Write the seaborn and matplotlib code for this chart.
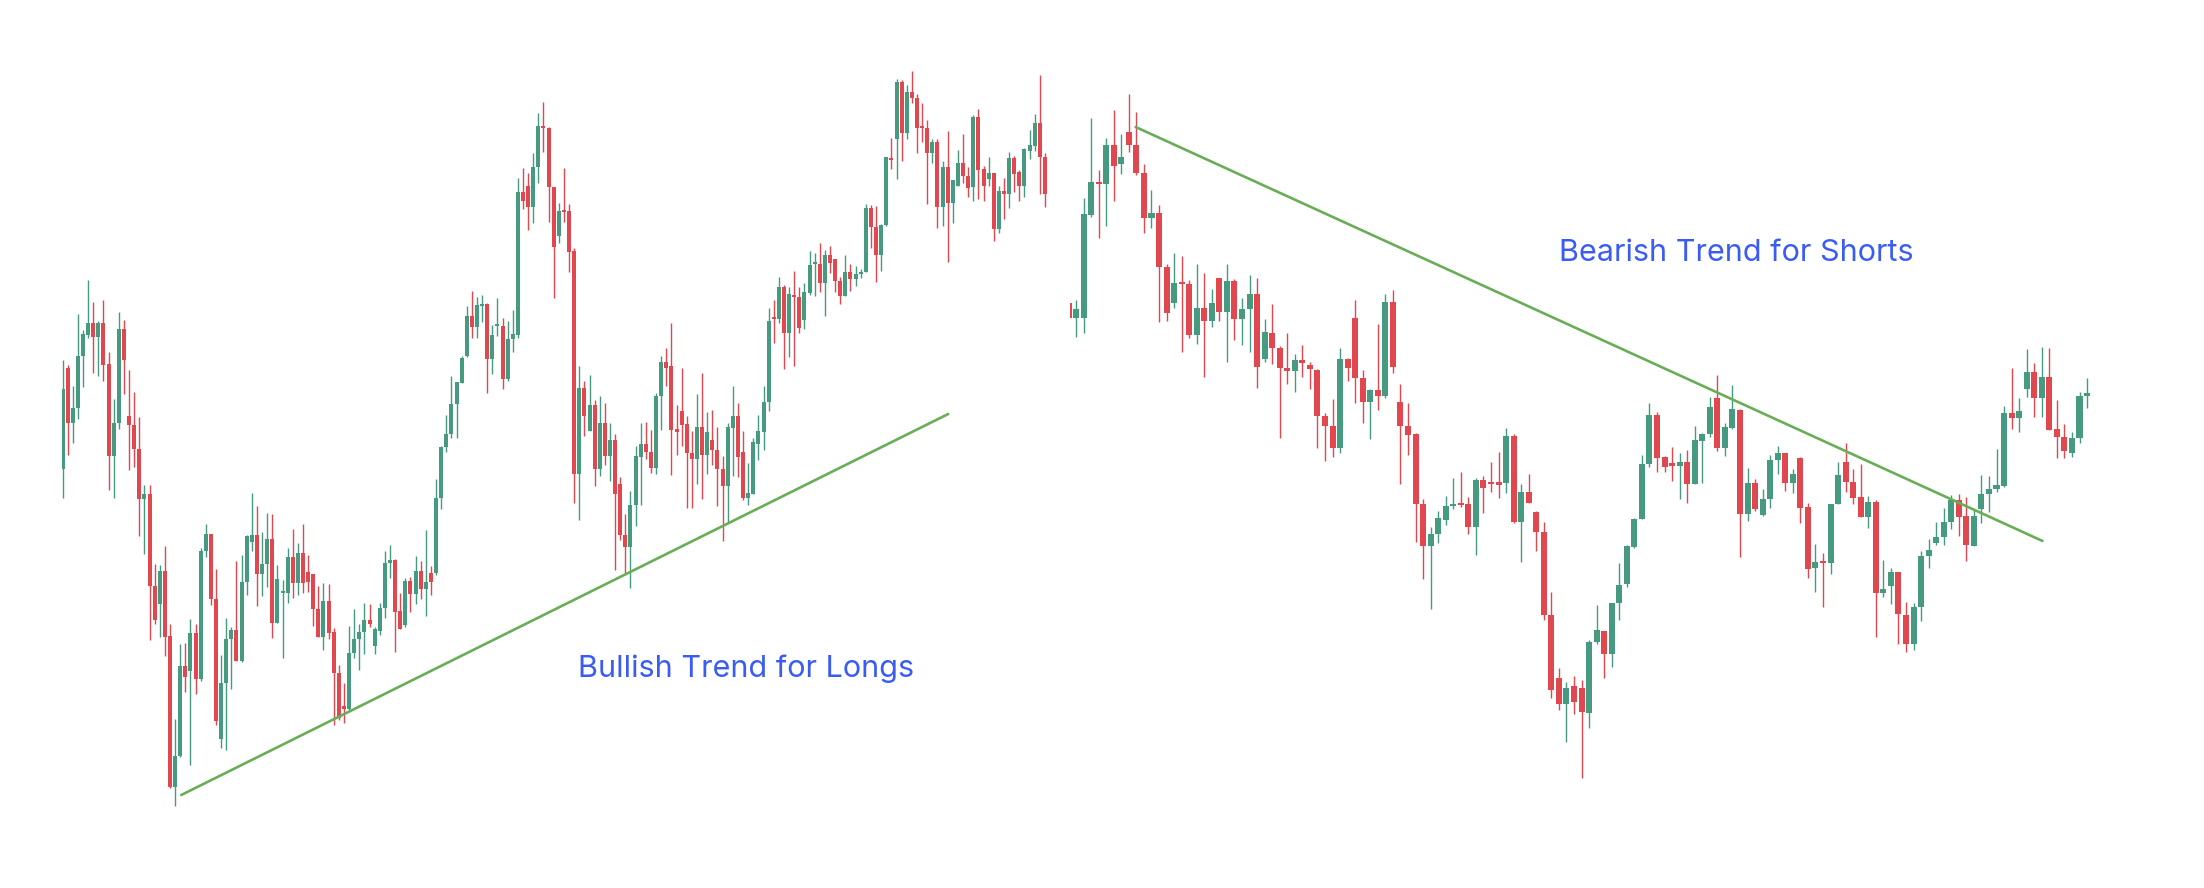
import matplotlib
matplotlib.use("Agg")
import matplotlib.pyplot as plt
import seaborn as sns
import numpy as np
import pandas as pd

# ---- left chart (bullish part) : open / high / low / close ----
left_open = [
    431, 532, 477, 492, 544, 565, 577, 563, 577, 536,
    444, 477, 571, 484, 475, 451, 401, 406, 314, 296,
    329, 264, 113, 144, 234, 229, 267, 221, 349, 366,
    301, 161, 217, 261, 270, 239, 318, 358, 365, 326,
    336, 361, 277, 307, 307, 343, 317, 347, 328, 326,
    291, 263, 299, 268, 227, 194, 191, 247, 261, 268,
    280, 254, 269, 292, 337, 340, 289, 275, 319, 306,
    329, 311, 327, 327, 402, 453, 466,
    496, 517, 544, 584, 573, 594, 596, 541, 574, 574,
    521, 561, 565, 708, 714, 693, 733, 774, 772, 713,
    664, 690, 689, 649, 426, 512, 469, 495, 431, 477,
    444, 460, 416, 365, 353, 395, 443, 456, 448, 432,
    504, 538, 534, 471, 489, 476, 447, 441, 473, 445,
    460, 450, 431, 414, 472, 484, 448, 402, 406, 456,
    468, 498, 583, 581, 613, 567, 605, 603, 580, 607,
    636, 636, 617, 645, 641, 619, 604, 628, 621, 626,
    628, 692, 673, 645, 675, 742, 761, 818, 767, 808,
    802, 773, 772, 747, 758, 693, 733, 697, 714, 737,
    724, 713, 783, 731, 721, 727, 671, 709, 706, 742,
    728, 714, 749, 754, 777, 743]
left_high = [
    540, 535, 514, 586, 570, 620, 598, 579, 600, 548,
    501, 588, 580, 530, 508, 483, 415, 415, 336, 335,
    354, 276, 181, 256, 257, 281, 276, 352, 376, 366,
    331, 245, 282, 273, 339, 345, 365, 407, 394, 368,
    387, 386, 335, 320, 352, 371, 357, 376, 345, 326,
    314, 317, 316, 272, 235, 217, 274, 291, 276, 297,
    296, 273, 297, 349, 355, 341, 307, 322, 323, 344,
    339, 370, 334, 421, 454, 485, 524,
    518, 544, 594, 609, 603, 605, 597, 575, 602, 582,
    579, 590, 722, 732, 727, 747, 787, 798, 773, 713,
    697, 732, 696, 652, 534, 519, 525, 500, 504, 497,
    477, 466, 423, 386, 409, 454, 477, 478, 470, 507,
    544, 552, 577, 495, 532, 484, 469, 506, 527, 488,
    490, 473, 444, 477, 514, 497, 469, 437, 462, 485,
    514, 592, 600, 623, 615, 613, 629, 613, 617, 649,
    647, 657, 650, 654, 641, 623, 645, 636, 634, 631,
    696, 695, 694, 676, 743, 762, 821, 820, 815, 829,
    806, 797, 780, 761, 761, 739, 769, 720, 750, 766,
    733, 785, 791, 734, 743, 727, 714, 722, 748, 744,
    730, 752, 770, 786, 825, 747]
left_low = [
    402, 445, 457, 481, 513, 562, 527, 524, 519, 410,
    402, 471, 506, 430, 433, 364, 346, 260, 276, 263,
    244, 112, 94, 143, 208, 135, 206, 219, 343, 295,
    175, 152, 150, 211, 239, 238, 305, 349, 294, 304,
    313, 262, 277, 242, 297, 302, 305, 307, 308, 274,
    263, 250, 261, 175, 180, 177, 189, 242, 230, 246,
    273, 246, 265, 282, 322, 248, 271, 273, 288, 296,
    301, 284, 305, 325, 391, 448, 462,
    462, 517, 543, 562, 562, 578, 507, 526, 564, 511,
    519, 548, 562, 691, 670, 677, 717, 748, 678, 602,
    657, 678, 628, 397, 380, 464, 469, 414, 424, 435,
    419, 330, 360, 326, 312, 374, 395, 441, 427, 426,
    470, 514, 425, 445, 454, 392, 392, 416, 401, 426,
    435, 394, 359, 377, 424, 423, 400, 395, 406, 440,
    450, 489, 557, 577, 531, 543, 534, 567, 571, 605,
    604, 608, 584, 627, 608, 596, 604, 609, 614, 622,
    628, 652, 618, 629, 674, 731, 721, 739, 761, 797,
    747, 758, 696, 737, 672, 674, 638, 677, 714, 717,
    703, 699, 701, 699, 714, 659, 667, 681, 692, 708,
    699, 703, 741, 749, 706, 693]
left_close = [
    511, 477, 492, 544, 566, 577, 563, 577, 535, 444,
    477, 571, 540, 475, 451, 401, 406, 314, 280, 329,
    263, 113, 144, 234, 223, 267, 221, 349, 366, 301,
    179, 217, 261, 270, 239, 318, 364, 365, 326, 336,
    361, 277, 321, 309, 343, 317, 347, 317, 318, 291,
    263, 299, 267, 227, 182, 191, 247, 261, 268, 280,
    276, 271, 292, 337, 340, 288, 271, 319, 306, 329,
    311, 318, 318, 402, 453, 466, 496,
    518, 542, 584, 573, 595, 596, 541, 565, 576, 521,
    561, 566, 708, 699, 693, 733, 774, 772, 713, 653,
    689, 688, 648, 426, 512, 484, 495, 431, 477, 444,
    460, 406, 365, 353, 395, 444, 456, 448, 432, 504,
    538, 532, 470, 468, 475, 447, 441, 473, 445, 468,
    450, 431, 414, 473, 484, 443, 402, 407, 458, 469,
    498, 579, 581, 613, 567, 606, 603, 572, 608, 635,
    637, 617, 645, 637, 619, 604, 628, 621, 626, 627,
    692, 673, 645, 675, 743, 740, 818, 767, 808, 802,
    772, 772, 747, 758, 693, 733, 697, 720, 737, 724,
    712, 783, 730, 714, 727, 671, 709, 706, 742, 726,
    714, 751, 755, 777, 743, 706]

# ---- right chart (bearish part) ----
right_open = [
    597, 582, 582, 685, 718, 716, 755, 736, 768, 755,
    727, 682, 687, 633, 597, 617, 616, 565, 592, 579,
    622, 588, 619, 581, 591, 606, 541, 567, 552, 532,
    529, 540, 535, 530, 484, 474, 452, 541, 582, 522,
    498, 510, 504, 598, 498, 474, 466, 396, 354, 366,
    380, 394, 397, 396, 373, 420, 418, 418, 417, 464,
    378, 408, 388, 368, 285, 222, 196, 214, 212, 187,
    258, 269, 246, 297, 316, 353, 381, 436, 485, 443,
    437, 434, 438, 416, 459, 466, 502, 452, 472, 490,
    386, 417, 385, 401, 440, 447, 417, 442, 393, 332,
    338, 337, 396, 438, 418, 403, 383, 398, 307, 314,
    328, 285, 256, 293, 344, 357, 363, 378, 400, 384,
    354, 391, 406, 411, 414, 487, 482, 511, 528, 502,
    523, 471, 463, 447, 462, 504]
right_high = [
    599, 600, 702, 782, 730, 762, 790, 766, 806, 788,
    736, 710, 695, 636, 647, 644, 620, 636, 627, 611,
    622, 636, 621, 602, 625, 622, 581, 596, 554, 567,
    546, 555, 538, 531, 487, 501, 552, 542, 600, 530,
    511, 576, 606, 610, 516, 497, 467, 401, 373, 389,
    404, 422, 428, 403, 422, 424, 438, 448, 472, 466,
    416, 426, 389, 378, 308, 232, 218, 224, 220, 260,
    295, 269, 297, 337, 355, 382, 445, 497, 488, 444,
    453, 447, 450, 474, 467, 503, 525, 477, 515, 491,
    432, 421, 411, 445, 454, 447, 431, 443, 397, 356,
    347, 396, 438, 457, 431, 436, 404, 400, 340, 332,
    328, 298, 297, 349, 361, 378, 392, 405, 406, 403,
    390, 425, 424, 451, 494, 532, 502, 551, 537, 553,
    552, 500, 476, 468, 508, 522]
right_low = [
    580, 563, 567, 683, 662, 674, 699, 726, 748, 725,
    667, 672, 578, 579, 592, 548, 562, 556, 523, 573,
    579, 538, 560, 555, 548, 512, 538, 536, 462, 516,
    508, 523, 511, 452, 439, 443, 447, 519, 497, 477,
    461, 490, 502, 527, 416, 445, 358, 321, 291, 357,
    375, 391, 393, 366, 345, 387, 408, 402, 407, 377,
    338, 397, 349, 280, 202, 190, 158, 186, 122, 172,
    256, 222, 233, 280, 313, 352, 381, 433, 428, 428,
    419, 401, 397, 416, 417, 463, 449, 444, 471, 343,
    379, 389, 384, 392, 426, 409, 407, 377, 322, 308,
    293, 326, 396, 408, 396, 383, 372, 263, 303, 296,
    256, 248, 250, 279, 332, 355, 355, 371, 364, 339,
    354, 377, 388, 408, 413, 471, 468, 503, 483, 483,
    470, 442, 442, 443, 457, 492]
right_close = [
    582, 591, 686, 718, 716, 755, 734, 743, 755, 727,
    682, 687, 633, 587, 617, 616, 565, 592, 579, 597,
    588, 619, 581, 591, 606, 533, 568, 552, 532, 529,
    540, 537, 531, 484, 474, 452, 541, 532, 522, 498,
    510, 504, 598, 533, 474, 465, 396, 354, 366, 382,
    394, 396, 395, 373, 420, 412, 416, 415, 464, 378,
    408, 397, 368, 285, 210, 196, 212, 198, 188, 258,
    270, 246, 297, 315, 354, 381, 436, 485, 442, 433,
    434, 438, 416, 460, 466, 493, 452, 473, 491, 386,
    417, 391, 401, 440, 447, 417, 426, 392, 331, 338,
    337, 396, 425, 418, 402, 383, 398, 307, 311, 328,
    286, 256, 293, 344, 350, 363, 378, 400, 383, 355,
    384, 406, 411, 415, 487, 482, 489, 528, 502, 523,
    470, 463, 449, 462, 504, 507]

# trend lines: (candle index, price) end points
bull_x = [23.2, 173.1]
bull_y = [105, 486]
bear_x = [8.9, 129.1]
bear_y = [773, 359]

labels = ["Bullish Trend for Longs", "Bearish Trend for Shorts"]

UP = "#469a80"
DOWN = "#e1474f"
TREND = "#6aad57"
LABEL = "#3a5cf2"


def draw_candles(ax, o, h, l, c, width):
    df = pd.DataFrame({"open": o, "high": h, "low": l, "close": c})
    df["x"] = np.arange(len(df))
    colors = np.where(df["close"] >= df["open"], UP, DOWN)
    ax.vlines(df["x"], df["low"], df["high"], colors=colors, linewidth=1.0)
    bottom = df[["open", "close"]].min(axis=1)
    height = (df["close"] - df["open"]).abs().clip(lower=1.8)
    ax.bar(df["x"], height, width=width, bottom=bottom, color=colors, linewidth=0)


sns.set_theme(style="white")
plt.rcParams["font.family"] = ["Inter", "DejaVu Sans"]

W, H = 2204, 888
fig = plt.figure(figsize=(W / 100, H / 100), dpi=100)
fig.patch.set_facecolor("white")

ax_l = fig.add_axes([61.5 / W, 0, (1070 - 61.5) / W, 1])
ax_r = fig.add_axes([1070 / W, 0, (W - 1070) / W, 1])

draw_candles(ax_l, left_open, left_high, left_low, left_close, 0.78)
draw_candles(ax_r, right_open, right_high, right_low, right_close, 0.8)

sns.lineplot(x=bull_x, y=bull_y, ax=ax_l, color=TREND, linewidth=1.9)
sns.lineplot(x=bear_x, y=bear_y, ax=ax_r, color=TREND, linewidth=1.9)

ax_l.set_xlim(-0.2, 196.9)
ax_r.set_xlim(0.2, 150.5)
for ax in (ax_l, ax_r):
    ax.set_ylim(12, 900)
    ax.set_axis_off()

fig.text(746 / W, 1 - 669 / H, labels[0], ha="center", va="center",
         fontsize=22, color=LABEL)
fig.text(1736 / W, 1 - 253 / H, labels[1], ha="center", va="center",
         fontsize=22, color=LABEL)

fig.savefig("out.png", dpi=100, facecolor="white")
